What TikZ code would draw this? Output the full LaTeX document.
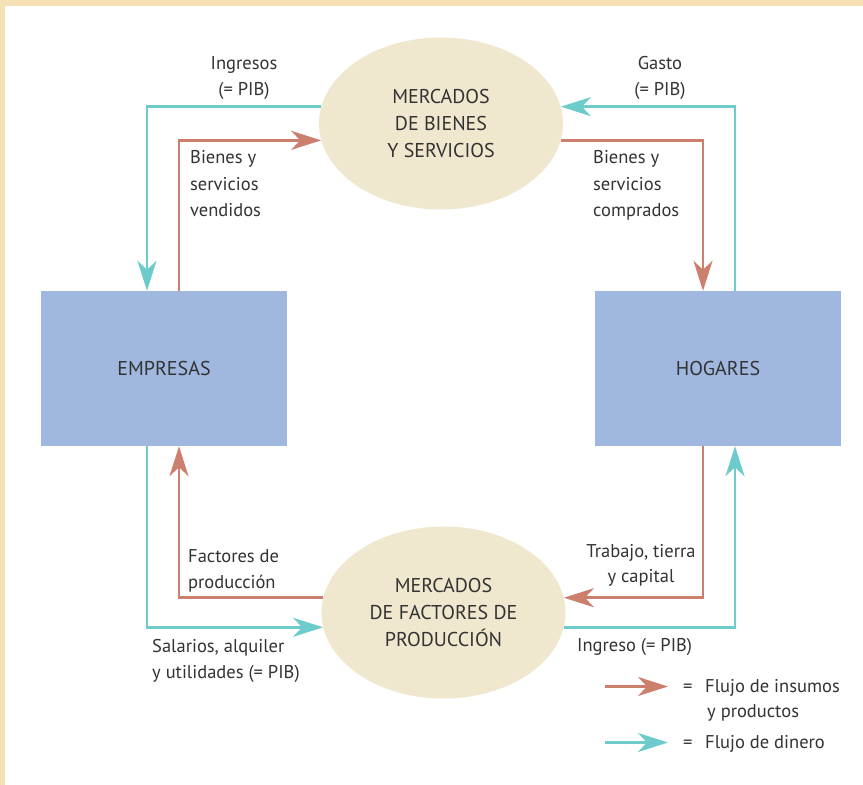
\documentclass[tikz,border=0pt]{standalone}
\usepackage{fontspec}
\setmainfont{PT Sans}
\usetikzlibrary{arrows.meta,shapes.geometric}
\definecolor{framec}{HTML}{F6E0B6}
\definecolor{ellc}{HTML}{F0E7CF}
\definecolor{boxc}{HTML}{A0B8DF}
\definecolor{goodc}{HTML}{CB7F6C}
\definecolor{moneyc}{HTML}{6DCBCB}
\definecolor{txtc}{HTML}{333333}
\tikzset{
  mkt/.style={ellipse, fill=ellc, minimum width=244pt, minimum height=172pt, inner sep=0pt, align=center, text=txtc, font=\fontsize{20}{27}\selectfont},
  agent/.style={rectangle, fill=boxc, minimum width=246pt, minimum height=155pt, inner sep=0pt, text=txtc, font=\fontsize{20}{27}\selectfont},
  lbl/.style={inner sep=0pt, text=txtc, font=\fontsize{18.5}{26.7}\selectfont},
  tipc/.style={-{Stealth[length=30pt,width=19pt,inset=9pt]}},
  goods/.style={draw=goodc, line width=2.7pt, tipc, color=goodc},
  money/.style={draw=moneyc, line width=2.9pt, tipc, color=moneyc},
}
\begin{document}
\begin{tikzpicture}[x=1pt,y=-1pt]
\useasboundingbox (0,0) rectangle (863,785);
\fill[white] (0,0) rectangle (863,785);
\fill[framec] (0,0) rectangle (863,6);
\fill[framec] (0,0) rectangle (5,785);

\node[mkt] (gbs) at (441,123.5) {MERCADOS\\DE BIENES\\Y SERVICIOS};
\node[mkt] (fm) at (443.5,612.5) {MERCADOS\\DE FACTORES DE\\PRODUCCIÓN};
\node[agent] (emp) at (164,368.5) {EMPRESAS};
\node[agent] (hog) at (718,368.5) {HOGARES};

% top-left
\draw[money] (gbs.172) -| ([xshift=-17pt]emp.north);
\draw[goods] ([xshift=15pt]emp.north) |- (gbs.188);
% top-right
\draw[goods] (gbs.352) -| ([xshift=-15pt]hog.north);
\draw[money] ([xshift=17pt]hog.north) |- (gbs.8);
% bottom-left
\draw[goods] (fm.173) -| ([xshift=15pt]emp.south);
\draw[money] ([xshift=-17pt]emp.south) |- (fm.187);
% bottom-right
\draw[goods] ([xshift=-15pt]hog.south) |- (fm.7);
\draw[money] (fm.353) -| ([xshift=17pt]hog.south);

% labels
\node[lbl, anchor=base] (l1) at (244,69) {Ingresos};
\node[lbl, anchor=base] (l2) at (244,95) {(= PIB)};
\node[lbl, anchor=base] (l3) at (660,69) {Gasto};
\node[lbl, anchor=base] (l4) at (660,95) {(= PIB)};
\node[lbl, anchor=base west] (l5) at (190,163) {Bienes y};
\node[lbl, anchor=base west] (l6) at (190,190) {servicios};
\node[lbl, anchor=base west] (l7) at (190,216.5) {vendidos};
\node[lbl, anchor=base west] (l8) at (593,163) {Bienes y};
\node[lbl, anchor=base west] (l9) at (593,190) {servicios};
\node[lbl, anchor=base west] (l10) at (593,216.5) {comprados};
\node[lbl, anchor=base west] (l11) at (188,562) {Factores de};
\node[lbl, anchor=base west] (l12) at (188,588) {producción};
\node[lbl, anchor=base west] (l13) at (152,652) {Salarios, alquiler};
\node[lbl, anchor=base west] (l14) at (152,678) {y utilidades (= PIB)};
\node[lbl, anchor=base] (l15) at (641,557) {Trabajo, tierra};
\node[lbl, anchor=base] (l16) at (641,582) {y capital};
\node[lbl, anchor=base west] (l17) at (577,651) {Ingreso (= PIB)};

% legend
\coordinate (g1) at (605,686.5);
\coordinate (g2) at (668,686.5);
\coordinate (m1) at (605,742.5);
\coordinate (m2) at (668,742.5);
\draw[goods] (g1) -- (g2);
\draw[money] (m1) -- (m2);
\node[lbl, anchor=base west] (e1) at (683,692) {=};
\node[lbl, anchor=base west] (t1) at (705,692) {Flujo de insumos};
\node[lbl, anchor=base west] (t2) at (707,717.5) {y productos};
\node[lbl, anchor=base west] (e2) at (683,748) {=};
\node[lbl, anchor=base west] (t3) at (705,748) {Flujo de dinero};
\end{tikzpicture}
\end{document}
